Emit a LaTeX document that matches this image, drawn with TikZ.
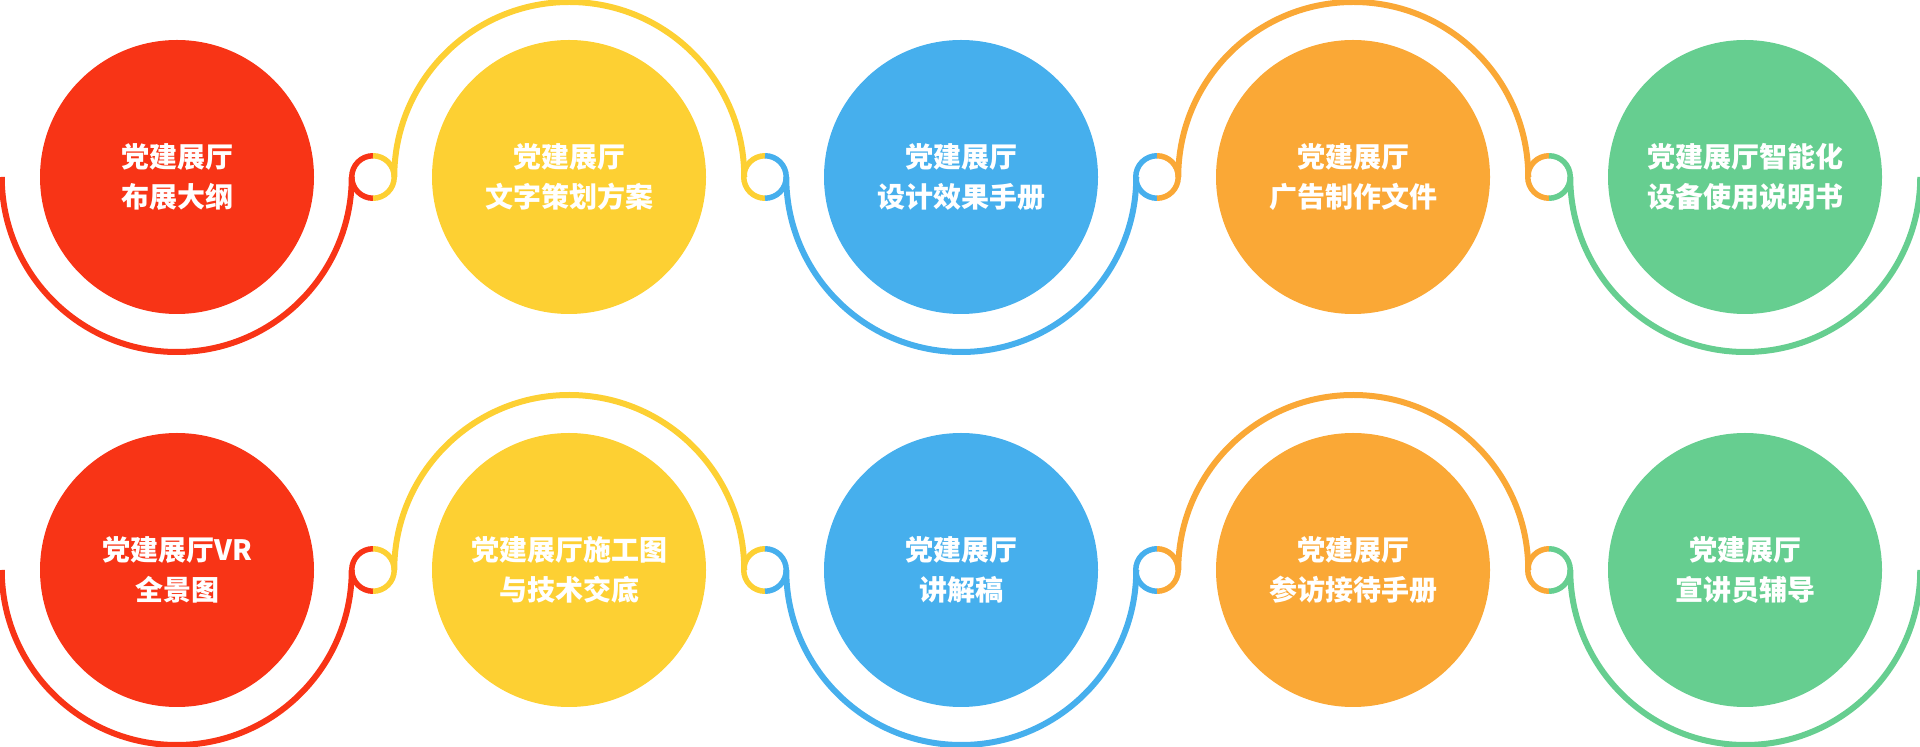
\documentclass[tikz,border=0pt]{standalone}
\usepackage{fontspec}
\newfontfamily\cjk{Noto Sans CJK SC}
\definecolor{cRed}{RGB}{248,52,22}
\definecolor{cYel}{RGB}{253,208,51}
\definecolor{cBlu}{RGB}{70,175,237}
\definecolor{cOra}{RGB}{250,168,54}
\definecolor{cGrn}{RGB}{102,206,144}
\tikzset{
  bigc/.style={circle, minimum size=274pt, inner sep=0pt, outer sep=0pt, text=white, align=center,
    font=\cjk\bfseries\fontsize{28pt}{40.5pt}\selectfont},
  ringc/.style={circle, minimum size=42.5pt, inner sep=0pt, outer sep=0pt},
  wire/.style={line width=6pt},
}
\begin{document}
\begin{tikzpicture}[x=1pt,y=1pt]
\useasboundingbox (0,0) rectangle (1920,747);
% ---------- row 1 (y = 570) ----------
\node[bigc, fill=cRed] (a1) at (177,570) {党建展厅\\布展大纲};
\node[bigc, fill=cYel] (a2) at (569,570) {党建展厅\\文字策划方案};
\node[bigc, fill=cBlu] (a3) at (961,570) {党建展厅\\设计效果手册};
\node[bigc, fill=cOra] (a4) at (1353,570) {党建展厅\\广告制作文件};
\node[bigc, fill=cGrn] (a5) at (1745,570) {党建展厅智能化\\设备使用说明书};
\node[ringc] (ra1) at (373,570) {};
\node[ringc] (ra2) at (765,570) {};
\node[ringc] (ra3) at (1157,570) {};
\node[ringc] (ra4) at (1549,570) {};
% ---------- row 2 (y = 177) ----------
\node[bigc, fill=cRed] (b1) at (177,177) {党建展厅VR\\全景图};
\node[bigc, fill=cYel] (b2) at (569,177) {党建展厅施工图\\与技术交底};
\node[bigc, fill=cBlu] (b3) at (961,177) {党建展厅\\讲解稿};
\node[bigc, fill=cOra] (b4) at (1353,177) {党建展厅\\参访接待手册};
\node[bigc, fill=cGrn] (b5) at (1745,177) {党建展厅\\宣讲员辅导};
\node[ringc] (rb1) at (373,177) {};
\node[ringc] (rb2) at (765,177) {};
\node[ringc] (rb3) at (1157,177) {};
\node[ringc] (rb4) at (1549,177) {};
% ---------- wires ----------
\foreach \r in {a,b}{
  \draw[wire, cRed] (r\r1.west) arc[start angle=0, end angle=-180, radius=175];
  \draw[wire, cYel] (r\r1.east) arc[start angle=180, end angle=0, radius=175];
  \draw[wire, cBlu] (r\r2.east) arc[start angle=180, end angle=360, radius=175];
  \draw[wire, cOra] (r\r3.east) arc[start angle=180, end angle=0, radius=175];
  \draw[wire, cGrn] (r\r4.east) arc[start angle=180, end angle=360, radius=175];
  % rings: left half previous colour, right half next colour
  \draw[line width=5.5pt, cRed] (r\r1.north) arc[start angle=90, end angle=270, radius=21.25];
  \draw[line width=5.5pt, cYel] (r\r1.south) arc[start angle=-90, end angle=90, radius=21.25];
  \draw[line width=5.5pt, cYel] (r\r2.north) arc[start angle=90, end angle=270, radius=21.25];
  \draw[line width=5.5pt, cBlu] (r\r2.south) arc[start angle=-90, end angle=90, radius=21.25];
  \draw[line width=5.5pt, cBlu] (r\r3.north) arc[start angle=90, end angle=270, radius=21.25];
  \draw[line width=5.5pt, cOra] (r\r3.south) arc[start angle=-90, end angle=90, radius=21.25];
  \draw[line width=5.5pt, cOra] (r\r4.north) arc[start angle=90, end angle=270, radius=21.25];
  \draw[line width=5.5pt, cGrn] (r\r4.south) arc[start angle=-90, end angle=90, radius=21.25];
}
\end{tikzpicture}
\end{document}
